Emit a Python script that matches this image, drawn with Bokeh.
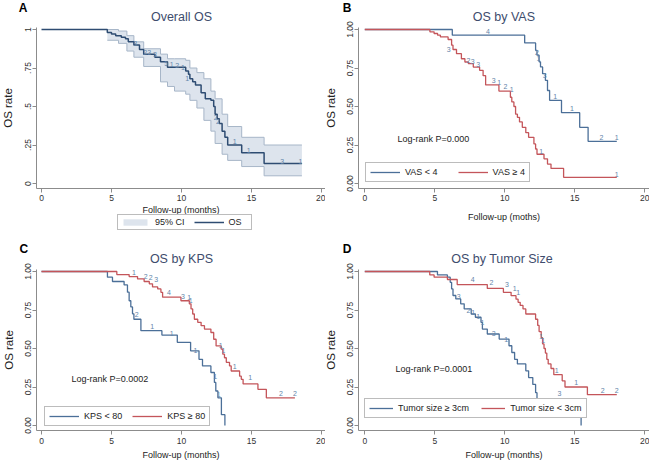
from bokeh.plotting import figure
from bokeh.layouts import gridplot
from bokeh.models import Legend, LegendItem, Label, FixedTicker, Range1d
from bokeh.core.properties import value
from bokeh.embed import file_html
from bokeh.resources import INLINE

FONT = "Liberation Sans"
BLUE = "#4b6f98"
RED = "#c4555a"
NAVY = "#2e4c72"
LABC = "#6385aa"
TITLEC = "#3e4c6d"
AXC = "#8c8c8c"

# ---------------- data ----------------
x_ticks = [0, 5, 10, 15, 20]
y_ticks = [0, 0.25, 0.5, 0.75, 1]
y_labels_a = ["0", ".25", ".5", ".75", "1"]
y_labels_b = ["0.00", "0.25", "0.50", "0.75", "1.00"]

# Panel A: overall OS
os_t = [0, 4.7, 5.0, 5.3, 5.7, 6.0, 6.2, 6.6, 7.0, 7.3, 8.1, 8.5, 9.0, 10.3, 10.5, 10.6,
        10.8, 11.0, 11.4, 11.7, 12.1, 12.3, 12.4, 12.55, 12.7, 12.9, 13.1, 13.3, 14.3, 15.9, 18.6]
os_s = [1.0, 0.98, 0.97, 0.96, 0.95, 0.94, 0.92, 0.90, 0.87, 0.84, 0.82, 0.79, 0.755, 0.73, 0.71, 0.68,
        0.66, 0.64, 0.59, 0.55, 0.54, 0.50, 0.45, 0.42, 0.39, 0.34, 0.30, 0.25, 0.20, 0.13, 0.13]
ci_t = [4.7, 5.5, 6.1, 6.6, 7.3, 8.5, 9.0, 9.5, 10.3, 10.6, 11.1, 11.6, 12.1, 12.4, 12.9, 13.3, 14.3, 15.9, 18.6]
ci_hi = [1.0, 0.99, 0.96, 0.92, 0.875, 0.84, 0.81, 0.81, 0.80, 0.75, 0.72, 0.68, 0.60, 0.55, 0.45, 0.37, 0.30, 0.25, 0.25]
ci_lo = [0.93, 0.91, 0.86, 0.82, 0.76, 0.66, 0.63, 0.60, 0.58, 0.54, 0.49, 0.41, 0.34, 0.26, 0.19, 0.15, 0.11, 0.05, 0.05]
a_lab_t = [6.7, 7.4, 7.7, 8.1, 8.9, 9.3, 9.7, 10.1, 10.4, 12.45, 12.6, 13.8, 14.8, 17.2, 18.5]
a_lab_s = [0.91, 0.85, 0.85, 0.84, 0.78, 0.77, 0.765, 0.755, 0.68, 0.43, 0.40, 0.27, 0.215, 0.145, 0.145]
a_lab = ["3", "2", "3", "3", "5", "1", "2", "1", "1", "2", "2", "1", "1", "3", "1"]

# Panel B: by VAS
vas_lo_t = [0, 6.25, 11.42, 12.2, 12.3, 12.45, 12.55, 12.7, 12.9, 13.05, 13.2, 14.05, 15.35, 15.95, 18.0]
vas_lo_s = [1.0, 0.963, 0.913, 0.865, 0.833, 0.79, 0.757, 0.713, 0.67, 0.604, 0.54, 0.46, 0.365, 0.274, 0.274]
vas_hi_t = [0, 4.65, 4.95, 5.2, 5.4, 5.95, 6.2, 6.3, 6.55, 6.9, 7.15, 7.4, 7.75, 8.2, 8.45, 8.63, 9.58,
            10.4, 10.5, 10.65, 10.77, 10.9, 11.05, 11.25, 11.5, 11.7, 12.08, 12.2, 12.3, 12.8, 13.05, 13.3, 14.2, 18.0]
vas_hi_s = [1.0, 0.985, 0.974, 0.963, 0.952, 0.935, 0.898, 0.87, 0.843, 0.81, 0.789, 0.778, 0.756, 0.735, 0.70, 0.64, 0.60,
            0.56, 0.53, 0.50, 0.45, 0.43, 0.40, 0.365, 0.33, 0.30, 0.257, 0.224, 0.19, 0.16, 0.126, 0.098, 0.04, 0.04]
b_lab_t = [8.8, 12.3, 12.4, 12.85, 13.6, 14.8, 16.9, 18.0, 6.0, 7.4, 7.7, 8.1, 9.2, 9.6, 10.05, 10.5, 12.6, 18.0]
b_lab_s = [0.99, 0.85, 0.81, 0.70, 0.565, 0.49, 0.30, 0.30, 0.87, 0.80, 0.79, 0.77, 0.67, 0.655, 0.63, 0.61, 0.21, 0.06]
b_lab = ["4", "2", "1", "3", "1", "1", "2", "1", "3", "2", "3", "3", "3", "1", "2", "1", "1", "1"]

# Panel C: by KPS
kps_lo_t = [0, 4.71, 5.07, 5.9, 6.14, 6.26, 6.38, 6.5, 6.6, 7.1, 8.6, 9.7, 10.65, 11.25, 11.5, 12.1,
            12.35, 12.45, 12.6, 12.85, 13.1]
kps_lo_s = [1.0, 0.963, 0.935, 0.913, 0.866, 0.81, 0.77, 0.725, 0.69, 0.616, 0.587, 0.54, 0.485, 0.43, 0.387, 0.344,
            0.28, 0.224, 0.18, 0.07, 0.0]
kps_hi_t = [0, 5.38, 6.26, 6.86, 7.33, 7.7, 7.93, 8.3, 8.53, 8.65, 9.96, 10.56, 10.68, 10.8, 10.92, 11.16, 11.4,
            11.64, 12.1, 12.3, 12.47, 12.83, 12.95, 13.07, 13.2, 13.43, 13.55, 14.15, 14.27, 14.4, 15.46, 16.06, 18.1]
kps_hi_s = [1.0, 0.98, 0.967, 0.952, 0.935, 0.92, 0.90, 0.887, 0.865, 0.833, 0.81, 0.79, 0.757, 0.724, 0.69, 0.67, 0.648,
            0.626, 0.604, 0.56, 0.517, 0.496, 0.463, 0.44, 0.41, 0.387, 0.354, 0.32, 0.30, 0.27, 0.235, 0.18, 0.18]
c_lab_t = [6.6, 7.45, 7.8, 8.2, 9.1, 10.1, 10.55, 10.65, 12.8, 13.0, 13.8, 14.9, 17.1, 18.1, 6.8, 7.9, 9.3, 11.0, 12.4, 12.65]
c_lab_s = [0.995, 0.97, 0.96, 0.95, 0.865, 0.84, 0.83, 0.81, 0.52, 0.49, 0.38, 0.31, 0.21, 0.21, 0.72, 0.64, 0.60, 0.49, 0.32, 0.20]
c_lab = ["1", "2", "2", "3", "4", "3", "1", "1", "1", "1", "1", "1", "2", "2", "2", "1", "1", "1", "1", "1"]

# Panel D: by tumor size
ts_big_t = [0, 5.19, 5.9, 6.1, 6.2, 6.3, 6.5, 6.85, 7.1, 7.6, 7.9, 8.3, 8.4, 8.75, 9.6, 10.3, 10.5,
            10.7, 10.9, 11.5, 11.7, 12.0, 12.2, 12.3, 15.45]
ts_big_s = [1.0, 0.978, 0.963, 0.93, 0.887, 0.844, 0.822, 0.79, 0.757, 0.724, 0.703, 0.67, 0.626, 0.594, 0.561, 0.518, 0.474,
            0.43, 0.40, 0.355, 0.311, 0.267, 0.213, 0.174, 0.0]
ts_small_t = [0, 4.64, 4.95, 5.9, 6.6, 8.75, 9.9, 10.45, 10.8, 10.95, 11.1, 11.3, 11.5, 12.2, 12.35, 12.45, 12.6,
              12.7, 12.8, 12.9, 13.0, 13.1, 13.3, 13.5, 14.1, 14.3, 15.9, 18.0]
ts_small_s = [1.0, 0.978, 0.963, 0.948, 0.915, 0.89, 0.865, 0.843, 0.82, 0.80, 0.78, 0.757, 0.724, 0.69, 0.65, 0.61, 0.57,
              0.53, 0.50, 0.47, 0.43, 0.40, 0.37, 0.33, 0.29, 0.25, 0.20, 0.20]
d_lab_t = [6.7, 7.4, 7.75, 8.1, 8.4, 9.2, 10.1, 13.9, 7.7, 9.05, 10.15, 10.7, 10.95, 12.6, 12.75, 13.7, 15.1, 17.0, 18.0]
d_lab_s = [0.84, 0.75, 0.735, 0.71, 0.67, 0.60, 0.56, 0.21, 0.945, 0.926, 0.913, 0.887, 0.865, 0.58, 0.55, 0.36, 0.28, 0.23, 0.23]
d_lab = ["3", "2", "1", "1", "1", "3", "1", "3", "4", "2", "3", "1", "1", "1", "1", "1", "1", "2", "2"]

PXX = 14.0   # pixels per month
PXY = 154.0  # pixels per unit survival


def make_fig(width, height, x0px, y0px, yaxis_px, xaxis_py, ylabels,
             xlabel, xl_standoff, yl_standoff, ylab_standoff, xlab_standoff):
    xs, xe = -x0px / PXX, (width - x0px) / PXX
    ys, ye = (y0px - height) / PXY, y0px / PXY
    p = figure(width=width, height=height,
               x_range=Range1d(xs, xe), y_range=Range1d(ys, ye),
               output_backend="svg", toolbar_location=None,
               min_border_left=0, min_border_right=0,
               min_border_top=0, min_border_bottom=0)
    p.outline_line_color = None
    p.grid.visible = False
    p.background_fill_color = "white"
    p.border_fill_color = "white"
    ax_x = (yaxis_px - x0px) / PXX
    ax_y = (y0px - xaxis_py) / PXY
    xa, ya = p.xaxis[0], p.yaxis[0]
    xa.fixed_location = ax_y
    ya.fixed_location = ax_x
    xa.bounds = (ax_x, xe)
    ya.bounds = (ax_y, 1.015)
    for ax in (xa, ya):
        ax.axis_line_color = AXC
        ax.major_tick_line_color = AXC
        ax.minor_tick_line_color = None
        ax.major_tick_out = 4
        ax.major_tick_in = 0
        ax.major_label_text_font = FONT
        ax.major_label_text_font_size = "8.5px"
        ax.major_label_text_color = "#333333"
        ax.axis_label_text_font = FONT
        ax.axis_label_text_font_style = "normal"
        ax.axis_label_text_color = "#222222"
    xa.ticker = FixedTicker(ticks=x_ticks)
    xa.axis_label = xlabel
    xa.axis_label_text_font_size = "9px"
    xa.major_label_standoff = xlab_standoff
    xa.axis_label_standoff = xl_standoff
    ya.ticker = FixedTicker(ticks=y_ticks)
    ya.major_label_overrides = {t: l for t, l in zip(y_ticks, ylabels)}
    ya.major_label_orientation = "vertical"
    ya.major_label_standoff = ylab_standoff
    ya.axis_label = "OS rate"
    ya.axis_label_text_font_size = "11.5px"
    ya.axis_label_standoff = yl_standoff
    return p


def add_text(p, x, y, txt, size, color, bold=False, align="center"):
    p.add_layout(Label(x=x, y=y, text=txt, text_font=FONT, text_font_size=size,
                       text_font_style="bold" if bold else "normal", text_color=color,
                       text_align=align, text_baseline="middle"))


def add_counts(p, t, s, labs):
    p.text(x=t, y=s, text=labs, text_font=value(FONT), text_font_size="7px",
           text_color=LABC, text_align="center", text_baseline="middle")


def style_legend(lg, glyph_w, standoff, spacing, padding=4):
    lg.orientation = "horizontal"
    lg.border_line_color = "#7a7a7a"
    lg.border_line_width = 1
    lg.background_fill_color = "white"
    lg.background_fill_alpha = 1
    lg.label_text_font = FONT
    lg.label_text_font_size = "9px"
    lg.label_text_color = "#222222"
    lg.glyph_width = glyph_w
    lg.glyph_height = 8
    lg.label_height = 8
    lg.label_standoff = standoff
    lg.padding = padding
    lg.margin = 0
    lg.spacing = spacing


# ---------------- Panel A ----------------
pa = make_fig(325, 232, 41, 183, 36, 187.5, y_labels_a, "Follow-up (months)", 0, 8, 2, 3)
ci_r = pa.varea_step(x=ci_t, y1=ci_lo, y2=ci_hi, step_mode="after",
                     fill_color="#dde4ed", fill_alpha=1)
pa.step(x=ci_t, y=ci_hi, mode="after", line_color="#a7b6c8", line_width=1)
pa.step(x=ci_t, y=ci_lo, mode="after", line_color="#a7b6c8", line_width=1)
os_r = pa.step(x=os_t, y=os_s, mode="after", line_color=NAVY, line_width=1.5)
add_counts(pa, a_lab_t, a_lab_s, a_lab)
add_text(pa, 10.0, 1.084, "Overall OS", "12.5px", TITLEC)
add_text(pa, -1.32, 1.14, "A", "12px", "black", bold=True)
lga = Legend(items=[LegendItem(label="95% CI", renderers=[ci_r]),
                    LegendItem(label="OS", renderers=[os_r])],
             location=(117, 2))
style_legend(lga, 30, 5, 9, padding=2)
pa.add_layout(lga)

# ---------------- Panel B ----------------
pb = make_fig(324, 232, 39.3, 183, 33.3, 187.5, y_labels_b, "Follow-up (moths)", 7, 7, 2, 3)
rb1 = pb.step(x=vas_lo_t, y=vas_lo_s, mode="after", line_color=BLUE, line_width=1.3)
rb2 = pb.step(x=vas_hi_t, y=vas_hi_s, mode="after", line_color=RED, line_width=1.3)
add_counts(pb, b_lab_t, b_lab_s, b_lab)
add_text(pb, 9.93, 1.084, "OS by VAS", "12.5px", TITLEC)
add_text(pb, -1.26, 1.14, "B", "12px", "black", bold=True)
add_text(pb, 2.34, 0.292, "Log-rank P=0.000", "9px", "#222222", align="left")
lgb = Legend(items=[LegendItem(label="VAS < 4", renderers=[rb1]),
                    LegendItem(label="VAS \u2265 4", renderers=[rb2])],
             location=(40, 50))
style_legend(lgb, 30, 5, 20)
pb.add_layout(lgb)

# ---------------- Panel C ----------------
pc = make_fig(325, 231, 41, 193, 36, 198, y_labels_b, "Follow-up (months)", 3, 7, 2, 3)
rc1 = pc.step(x=kps_lo_t, y=kps_lo_s, mode="after", line_color=BLUE, line_width=1.3)
rc2 = pc.step(x=kps_hi_t, y=kps_hi_s, mode="after", line_color=RED, line_width=1.3)
add_counts(pc, c_lab_t, c_lab_s, c_lab)
add_text(pc, 10.0, 1.08, "OS by KPS", "12.5px", TITLEC)
add_text(pc, -1.26, 1.145, "C", "12px", "black", bold=True)
add_text(pc, 2.14, 0.30, "Log-rank P=0.0002", "9px", "#222222", align="left")
lgc = Legend(items=[LegendItem(label="KPS < 80", renderers=[rc1]),
                    LegendItem(label="KPS \u2265 80", renderers=[rc2])],
             location=(44, 37))
style_legend(lgc, 30, 5, 10)
pc.add_layout(lgc)

# ---------------- Panel D ----------------
pd_ = make_fig(324, 231, 39.3, 193, 33.3, 198, y_labels_b, "Follow-up (months)", 3, 7, 2, 3)
rd1 = pd_.step(x=ts_big_t, y=ts_big_s, mode="after", line_color=BLUE, line_width=1.3)
rd2 = pd_.step(x=ts_small_t, y=ts_small_s, mode="after", line_color=RED, line_width=1.3)
add_counts(pd_, d_lab_t, d_lab_s, d_lab)
add_text(pd_, 9.8, 1.08, "OS by Tumor Size", "12.5px", TITLEC)
add_text(pd_, -1.26, 1.145, "D", "12px", "black", bold=True)
add_text(pd_, 2.19, 0.366, "Log-rank P=0.0001", "9px", "#222222", align="left")
lgd = Legend(items=[LegendItem(label="Tumor size \u2265 3cm", renderers=[rd1]),
                    LegendItem(label="Tumor size < 3cm", renderers=[rd2])],
             location=(39, 45))
style_legend(lgd, 24, 5, 12)
pd_.add_layout(lgd)

grid = gridplot([[pa, pb], [pc, pd_]], toolbar_location=None)

open("out.html", "w").write(file_html(grid, INLINE))
